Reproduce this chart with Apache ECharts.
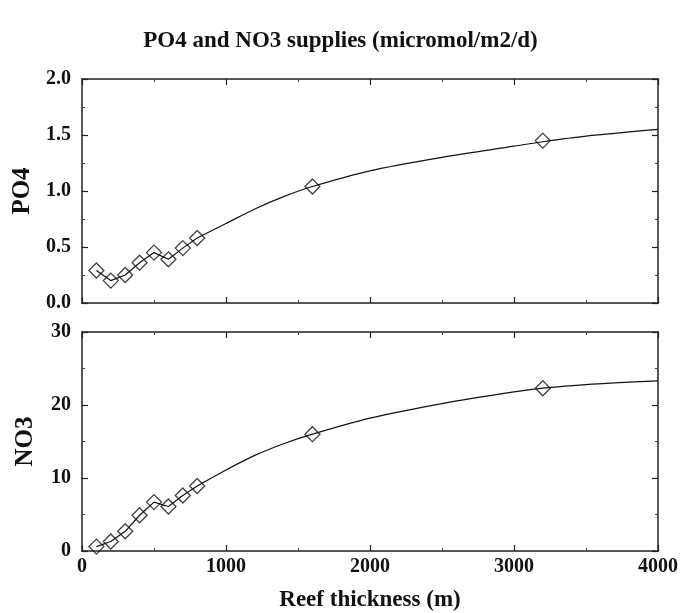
<!DOCTYPE html>
<html>
<head>
<meta charset="utf-8">
<script src="https://cdn.jsdelivr.net/npm/echarts@6/dist/echarts.min.js"></script>
<style>html,body{margin:0;padding:0;background:#fff}#c{width:681px;height:613px}</style>
</head>
<body>
<div id="c"></div>
<script>
// Data
var thickness = [100, 200, 300, 400, 500, 600, 700, 800, 1600, 3200];
var po4 = [0.29, 0.20, 0.25, 0.36, 0.45, 0.39, 0.49, 0.58, 1.04, 1.45];
var no3 = [0.6, 1.3, 2.7, 4.9, 6.7, 6.1, 7.6, 8.9, 16.0, 22.3];
// fitted curve
var curveX = [800, 1000, 1200, 1400, 1600, 2000, 2500, 3000, 3200, 3500, 4000];
var po4Curve = [0.58, 0.71, 0.84, 0.95, 1.04, 1.18, 1.30, 1.40, 1.44, 1.49, 1.55];
var no3Curve = [8.9, 11.1, 13.1, 14.7, 16.0, 18.2, 20.2, 21.8, 22.3, 22.8, 23.3];
var xTicks = [0, 1000, 2000, 3000, 4000];
var po4Ticks = [0.0, 0.5, 1.0, 1.5, 2.0];
var no3Ticks = [0, 10, 20, 30];

function pairs(xs, ys, n) { var o = []; for (var i = 0; i < (n || xs.length); i++) o.push([xs[i], ys[i]]); return o; }

var FONT = '"Liberation Serif", "Times New Roman", serif';
var axisLine = { show: true, onZero: false, lineStyle: { color: '#222', width: 1.5 } };
var tickStyle = { show: true, inside: true, length: 6, lineStyle: { color: '#222', width: 1.2 } };
var minorStyle = { show: true, splitNumber: 2, length: 3, lineStyle: { color: '#444', width: 1 } };

function xAx(grid, pos, labels) {
  return {
    type: 'value', gridIndex: grid, position: pos, min: xTicks[0], max: xTicks[xTicks.length - 1], interval: 1000,
    axisLine: axisLine, axisTick: tickStyle, minorTick: minorStyle, splitLine: { show: false },
    axisLabel: { show: labels, color: '#111', fontFamily: FONT, fontWeight: 'bold', fontSize: 20, margin: 6,
      formatter: function (v) { return String(v); } },
    name: labels ? 'Reef thickness (m)' : '', nameLocation: 'middle', nameGap: 38,
    nameTextStyle: { color: '#111', fontFamily: FONT, fontWeight: 'bold', fontSize: 23 }
  };
}
function yAx(grid, pos, ticks, interval, name, dec) {
  return {
    type: 'value', gridIndex: grid, position: pos, min: ticks[0], max: ticks[ticks.length - 1], interval: interval,
    axisLine: axisLine, axisTick: tickStyle, minorTick: minorStyle, splitLine: { show: false },
    axisLabel: { show: pos === 'left', color: '#111', fontFamily: FONT, fontWeight: 'bold', fontSize: 20, margin: 11,
      formatter: function (v) { return v.toFixed(dec); } },
    name: pos === 'left' ? name : '', nameLocation: 'middle', nameGap: 44, nameRotate: 90,
    nameTextStyle: { color: '#111', fontFamily: FONT, fontWeight: 'bold', fontSize: 25 }
  };
}

var lineStyle = { color: '#111', width: 1.2 };
var diamond = { symbol: 'diamond', symbolSize: 15, itemStyle: { color: 'rgba(0,0,0,0)', borderColor: '#111', borderWidth: 1.3 } };

function seriesFor(xi, yi, vals, curve) {
  return [
    { type: 'line', xAxisIndex: xi, yAxisIndex: yi, data: pairs(thickness, vals, 8), showSymbol: false, lineStyle: lineStyle, silent: true, z: 2 },
    { type: 'line', xAxisIndex: xi, yAxisIndex: yi, data: pairs(curveX, curve), smooth: 0.3, showSymbol: false, lineStyle: lineStyle, silent: true, z: 2 },
    Object.assign({ type: 'scatter', xAxisIndex: xi, yAxisIndex: yi, data: pairs(thickness, vals), z: 3 }, diamond)
  ];
}

var chart = echarts.init(document.getElementById('c'), null, { renderer: 'canvas' });
chart.setOption({
  animation: false,
  backgroundColor: '#fff',
  title: { text: 'PO4 and NO3 supplies (micromol/m2/d)', left: 'center', top: 25,
    textStyle: { fontFamily: FONT, fontWeight: 'bold', fontSize: 23, color: '#111' } },
  grid: [
    { left: 82, top: 79, width: 576, height: 224 },
    { left: 82, top: 332, width: 576, height: 225 }
  ],
  xAxis: [xAx(0, 'bottom', false), xAx(0, 'top', false), xAx(1, 'bottom', true), xAx(1, 'top', false)],
  yAxis: [yAx(0, 'left', po4Ticks, 0.5, 'PO4', 1), yAx(0, 'right', po4Ticks, 0.5, '', 1),
          yAx(1, 'left', no3Ticks, 10, 'NO3', 0), yAx(1, 'right', no3Ticks, 10, '', 0)],
  series: [].concat(seriesFor(0, 0, po4, po4Curve), seriesFor(2, 2, no3, no3Curve))
});
</script>
</body>
</html>
